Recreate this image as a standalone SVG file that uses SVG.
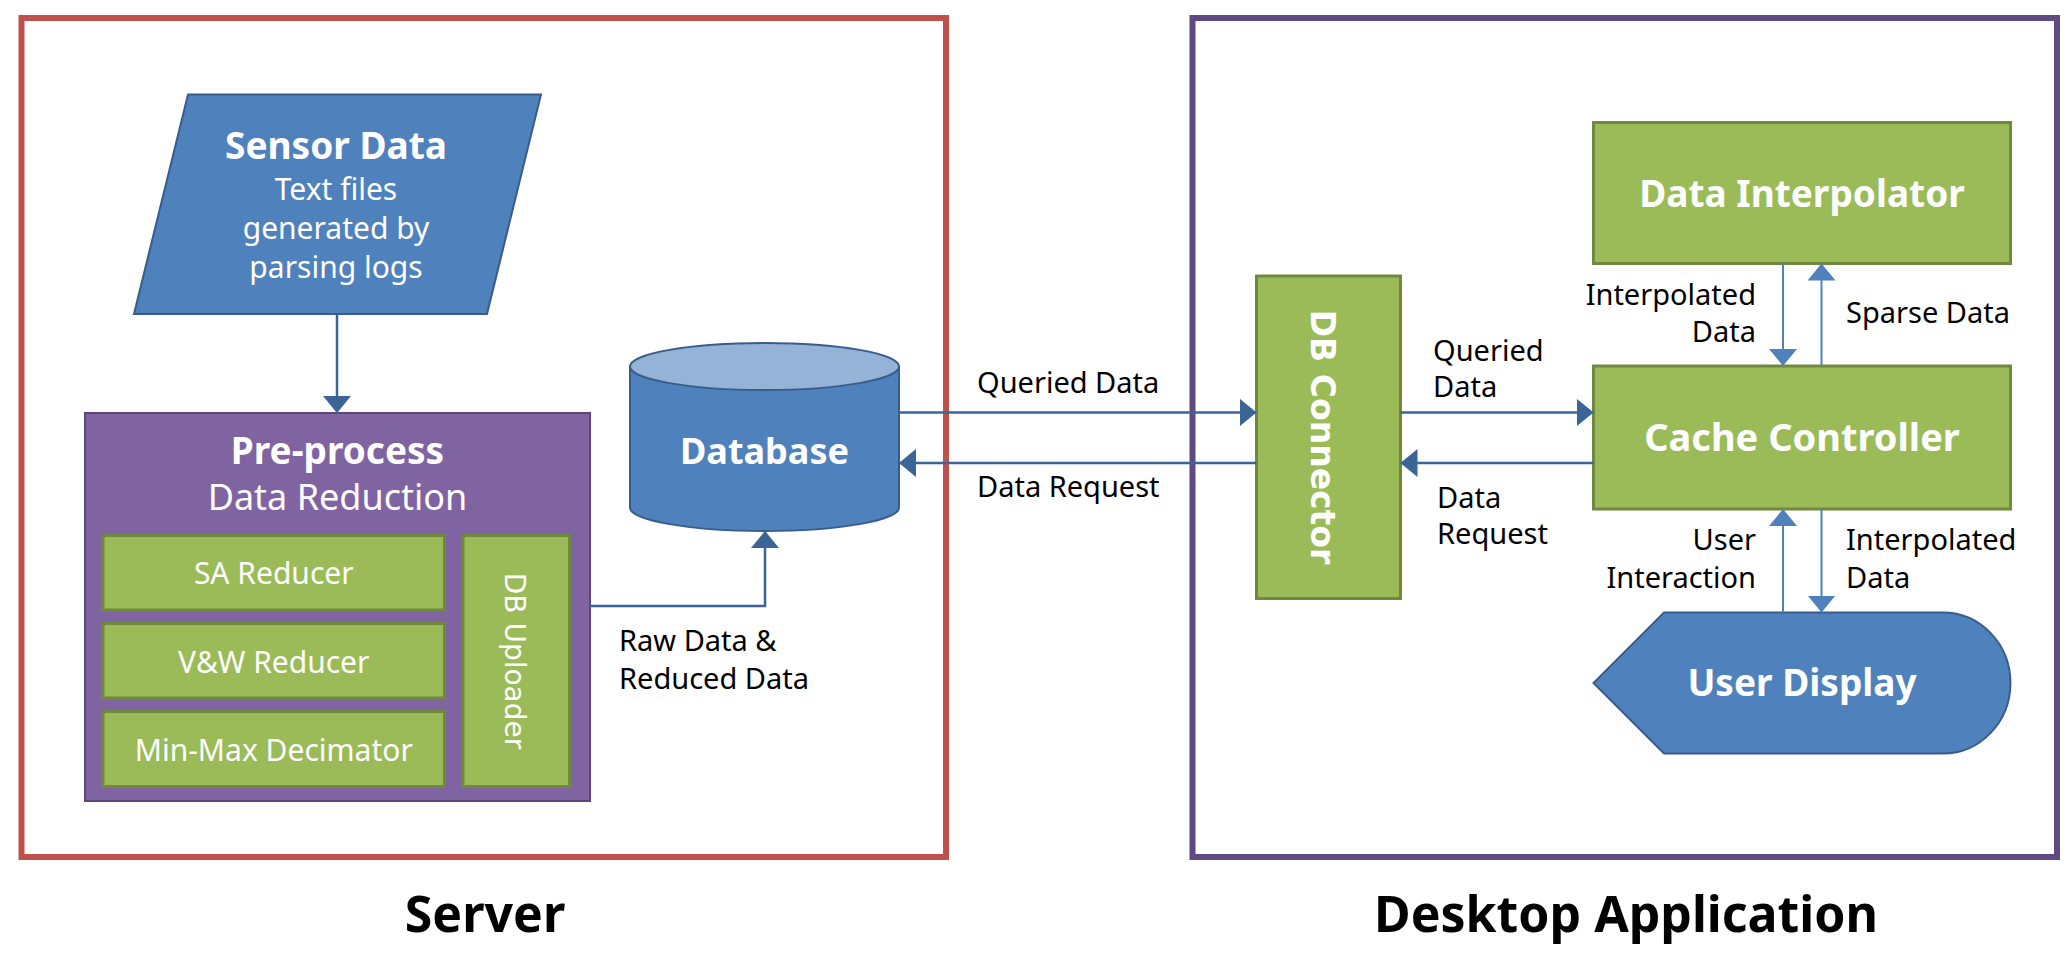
<svg xmlns="http://www.w3.org/2000/svg" width="2071" height="955" viewBox="0 0 2071 955">
  <defs>
    <marker id="ahDark" viewBox="0 0 17 28" markerWidth="17" markerHeight="28" refX="17" refY="14" orient="auto" markerUnits="userSpaceOnUse">
      <path d="M0,0 L17,14 L0,28 Z" fill="#3a6596"/>
    </marker>
    <marker id="ahLight" viewBox="0 0 17 28" markerWidth="17" markerHeight="28" refX="17" refY="14" orient="auto" markerUnits="userSpaceOnUse">
      <path d="M0,0 L17,14 L0,28 Z" fill="#4f81bd"/>
    </marker>
    <style>
      .frameS { fill: none; stroke: #c0504d; stroke-width: 6; }
      .frameD { fill: none; stroke: #5f4b7f; stroke-width: 6; }
      .blue { fill: #4f81bd; stroke: #385d8a; stroke-width: 2; }
      .blueTop { fill: #95b3d7; stroke: #385d8a; stroke-width: 2; }
      .purple { fill: #8064a2; stroke: #5c4776; stroke-width: 2; }
      .green { fill: #9bbb59; stroke: #71893f; stroke-width: 3; }
      .dark { fill: none; stroke: #3a6596; stroke-width: 2.5; marker-end: url(#ahDark); }
      .light { fill: none; stroke: #4f81bd; stroke-width: 2; marker-end: url(#ahLight); }
      text { font-family: "Noto Sans", "Open Sans", "Liberation Sans", sans-serif; }
      .title { font-weight: bold; font-size: 36px; fill: #ffffff; text-anchor: middle; }
      .sub { font-size: 30px; fill: #ffffff; text-anchor: middle; }
      .lbl { font-size: 29px; fill: #000000; }
      .end { text-anchor: end; }
      .rot { font-family: "DejaVu Sans", "Verdana", sans-serif; fill: #ffffff; text-anchor: middle; }
      .cap { font-weight: bold; font-size: 50px; fill: #000000; text-anchor: middle; }
    </style>
  </defs>

  <g id="server-frame">
    <rect class="frameS" x="21.5" y="18" width="924.5" height="839"/>
    <text class="cap" x="485" y="932">Server</text>
  </g>

  <g id="desktop-frame">
    <rect class="frameD" x="1192.5" y="18" width="864.5" height="839"/>
    <text class="cap" x="1626" y="932">Desktop Application</text>
  </g>

  <g id="sensor-data">
    <polygon class="blue" points="188,94.5 541,94.5 487,314 134,314"/>
    <text class="title" x="336" y="159" style="font-size:37px">Sensor Data</text>
    <text class="sub" x="336" y="200">Text files</text>
    <text class="sub" x="336" y="239">generated by</text>
    <text class="sub" x="336" y="278">parsing logs</text>
  </g>

  <g id="pre-process">
    <rect class="purple" x="85" y="413" width="505" height="388"/>
    <text class="title" x="337.5" y="463.5" style="font-size:37px">Pre-process</text>
    <text class="sub" x="337.5" y="510" style="font-size:36px">Data Reduction</text>
  </g>

  <g id="sa-reducer">
    <rect class="green" x="103" y="535.5" width="341.5" height="74.5"/>
    <text class="sub" x="273.75" y="584">SA Reducer</text>
  </g>

  <g id="vw-reducer">
    <rect class="green" x="103" y="623.5" width="341.5" height="74.5"/>
    <text class="sub" x="273.75" y="672.5">V&amp;W Reducer</text>
  </g>

  <g id="minmax-decimator">
    <rect class="green" x="103" y="711.5" width="341.5" height="75"/>
    <text class="sub" x="273.75" y="760.5">Min-Max Decimator</text>
  </g>

  <g id="db-uploader">
    <rect class="green" x="463" y="535.5" width="106.5" height="251"/>
    <text class="rot" transform="translate(505,661) rotate(90)" x="0" y="0" style="font-size:28px">DB Uploader</text>
  </g>

  <g id="database">
    <path class="blue" d="M630,366.5 V507.5 A134.5,23.5 0 0 0 899,507.5 V366.5 Z"/>
    <ellipse class="blueTop" cx="764.5" cy="366.5" rx="134.5" ry="23.5"/>
    <text class="title" x="764.5" y="463.5">Database</text>
  </g>

  <g id="db-connector">
    <rect class="green" x="1256.5" y="276" width="144" height="322.5"/>
    <text class="rot" transform="translate(1310.5,437) rotate(90)" x="0" y="0" style="font-size:33px;font-weight:bold">DB Connector</text>
  </g>

  <g id="data-interpolator">
    <rect class="green" x="1593.5" y="122.5" width="417" height="141"/>
    <text class="title" x="1802" y="206.5" style="font-size:37px">Data Interpolator</text>
  </g>

  <g id="cache-controller">
    <rect class="green" x="1593.5" y="366" width="417" height="143"/>
    <text class="title" x="1802" y="451" style="font-size:38px">Cache Controller</text>
  </g>

  <g id="user-display">
    <path class="blue" d="M1593.5,683 L1664,612.5 H1943 A67.5,70.5 0 0 1 1943,753.5 H1664 Z"/>
    <text class="title" x="1802" y="695.5" style="font-size:37px">User Display</text>
  </g>

  <g id="connectors">
    <path class="dark" d="M337,314 V413"/>
    <path class="dark" d="M590,606 H765 V531"/>
    <path class="dark" d="M899,412.5 H1256.5"/>
    <path class="dark" d="M1256.5,463 H899"/>
    <path class="dark" d="M1400.5,412.5 H1593.5"/>
    <path class="dark" d="M1593.5,463 H1400.5"/>
    <path class="light" d="M1783,263.5 V366"/>
    <path class="light" d="M1821.5,366 V263.5"/>
    <path class="light" d="M1783,612.5 V509"/>
    <path class="light" d="M1821.5,509 V612.5"/>
  </g>

  <g id="labels">
    <text class="lbl" x="977" y="393">Queried Data</text>
    <text class="lbl" x="977" y="497">Data Request</text>
    <text class="lbl" x="619" y="651">Raw Data &amp;</text>
    <text class="lbl" x="619" y="688.5">Reduced Data</text>
    <text class="lbl" x="1433" y="361">Queried</text>
    <text class="lbl" x="1433" y="397">Data</text>
    <text class="lbl" x="1437" y="507.5">Data</text>
    <text class="lbl" x="1437" y="543.5">Request</text>
    <text class="lbl end" x="1756" y="305">Interpolated</text>
    <text class="lbl end" x="1756" y="341.5">Data</text>
    <text class="lbl" x="1846" y="323">Sparse Data</text>
    <text class="lbl end" x="1756" y="550">User</text>
    <text class="lbl end" x="1756" y="587.5">Interaction</text>
    <text class="lbl" x="1846" y="550">Interpolated</text>
    <text class="lbl" x="1846" y="587.5">Data</text>
  </g>
</svg>
